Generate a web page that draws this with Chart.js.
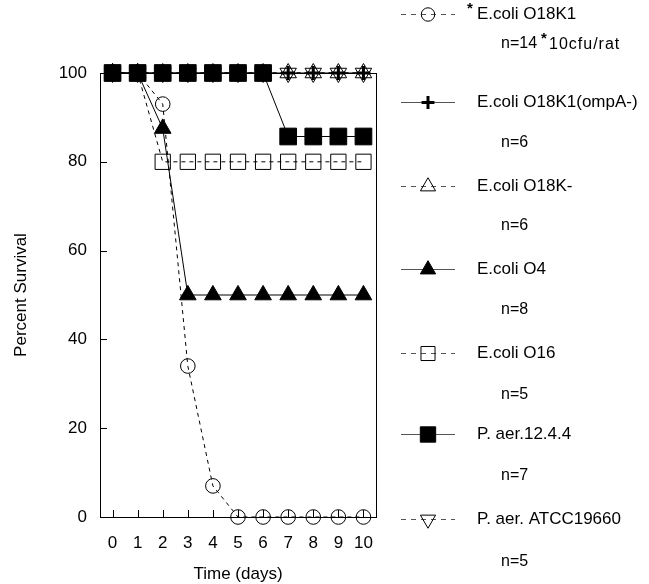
<!DOCTYPE html>
<html>
<head>
<meta charset="utf-8">
<script src="https://cdn.jsdelivr.net/npm/chart.js@4/dist/chart.umd.min.js"></script>
<style>
  html, body { margin: 0; padding: 0; background: #fff; }
  #wrap { width: 649px; height: 584px; position: relative; }
</style>
</head>
<body>
<div id="wrap"><canvas id="c" width="649" height="584"></canvas></div>
<script>
// ---- data ----
const days = ['0', '1', '2', '3', '4', '5', '6', '7', '8', '9', '10'];
const yTicks = [0, 20, 40, 60, 80, 100];
const ecoliO18K1     = [100, 100, 93, 34, 7, 0, 0, 0, 0, 0, 0];
const ecoliO18K1ompA = [100, 100, 100, 100, 100, 100, 100, 100, 100, 100, 100];
const ecoliO18Kminus = [100, 100, 100, 100, 100, 100, 100, 100, 100, 100, 100];
const ecoliO4        = [100, 100, 87.5, 50, 50, 50, 50, 50, 50, 50, 50];
const ecoliO16       = [100, 100, 80, 80, 80, 80, 80, 80, 80, 80, 80];
const paer1244       = [100, 100, 100, 100, 100, 100, 100, 85.7, 85.7, 85.7, 85.7];
const paerATCC       = [100, 100, 100, 100, 100, 100, 100, 100, 100, 100, 100];
const seriesNames = ['E.coli O18K1', 'E.coli O18K1(ompA-)', 'E.coli O18K-', 'E.coli O4', 'E.coli O16', 'P. aer.12.4.4', 'P. aer. ATCC19660'];
const seriesN = ['n=14', 'n=6', 'n=6', 'n=8', 'n=5', 'n=7', 'n=5'];
const footnote = '10cfu/rat';

// ---- styles ----
const FONT = '"Liberation Sans", Arial, Helvetica, sans-serif';
const black = '#000';
const none = 'rgba(0,0,0,0)';
function ds(label, data, style) {
  return Object.assign({
    label, data,
    borderColor: black, borderWidth: 1, tension: 0,
    pointBorderColor: black, pointBorderWidth: 1,
    pointHoverRadius: 0, fill: false
  }, style);
}
const datasets = [
  ds(seriesNames[0], ecoliO18K1, { borderDash: [4, 4], pointStyle: 'circle', pointRadius: 7.3, pointBackgroundColor: none, order: 3 }),
  ds(seriesNames[1], ecoliO18K1ompA, { pointStyle: 'cross', pointRadius: 7, pointBorderWidth: 3, pointBackgroundColor: black, order: 4 }),
  ds(seriesNames[2], ecoliO18Kminus, { borderDash: [4, 4], pointStyle: 'triangle', pointRadius: 9.5, pointBackgroundColor: none, order: 5 }),
  ds(seriesNames[3], ecoliO4, { pointStyle: 'triangle', pointRadius: 9.6, pointBackgroundColor: black, order: 2 }),
  ds(seriesNames[4], ecoliO16, { borderDash: [4, 4], pointStyle: 'rect', pointRadius: 10.8, pointBackgroundColor: none, order: 6 }),
  ds(seriesNames[5], paer1244, { pointStyle: 'rect', pointRadius: 11.8, pointBackgroundColor: black, order: 0 }),
  ds(seriesNames[6], paerATCC, { borderDash: [4, 4], pointStyle: 'triangle', pointRotation: 180, pointRadius: 9.5, pointBackgroundColor: none, order: 5 })
];

// frame + inward ticks
const framePlugin = {
  id: 'frame',
  beforeDatasetsDraw(chart) {
    const { ctx, chartArea: a, scales: { x, y } } = chart;
    ctx.save();
    ctx.strokeStyle = black;
    ctx.lineWidth = 1;
    ctx.setLineDash([]);
    ctx.strokeRect(Math.round(a.left) + 0.5, Math.round(a.top) + 0.5, Math.round(a.right - a.left), Math.round(a.bottom - a.top));
    ctx.beginPath();
    days.forEach((d, i) => {
      const px = Math.round(x.getPixelForValue(i)) + 0.5;
      ctx.moveTo(px, a.bottom);
      ctx.lineTo(px, a.bottom - 7);
    });
    yTicks.forEach(v => {
      const py = Math.round(y.getPixelForValue(v)) + 0.5;
      ctx.moveTo(a.left, py);
      ctx.lineTo(a.left + 7, py);
    });
    ctx.stroke();
    ctx.restore();
  }
};

// custom legend
const LEG = { lineStart: 401, lineEnd: 455, marker: 428, text: 477, nText: 501 };
const legendRowY = [14, 102, 186, 269, 353, 434, 519];
const legendNY = [44, 143, 226, 310, 395, 476, 562];
const legendPlugin = {
  id: 'customLegend',
  afterDraw(chart) {
    const ctx = chart.ctx;
    ctx.save();
    chart.data.datasets.forEach((d, i) => {
      const yy = legendRowY[i] + 0.5;
      ctx.strokeStyle = '#555';
      ctx.lineWidth = 1;
      ctx.setLineDash(d.borderDash ? [5, 5] : []);
      ctx.beginPath();
      ctx.moveTo(LEG.lineStart, yy);
      ctx.lineTo(LEG.lineEnd, yy);
      ctx.stroke();
      ctx.setLineDash([]);
      // marker
      ctx.fillStyle = d.pointBackgroundColor;
      ctx.strokeStyle = black;
      ctx.lineWidth = d.pointBorderWidth;
      Chart.helpers.drawPoint(ctx, { pointStyle: d.pointStyle, rotation: d.pointRotation || 0, radius: d.pointRadius * 0.92, borderWidth: d.pointBorderWidth }, LEG.marker, yy);
      // text
      ctx.fillStyle = black;
      ctx.textBaseline = 'middle';
      ctx.textAlign = 'left';
      ctx.font = '17px ' + FONT;
      ctx.fillText(d.label, LEG.text, legendRowY[i]);
      ctx.font = '16px ' + FONT;
      ctx.fillText(seriesN[i], LEG.nText, legendNY[i]);
      if (i === 0) {
        ctx.font = 'bold 15px ' + FONT;
        ctx.fillText('*', LEG.text - 10, legendRowY[i] - 5);
        ctx.fillText('*', 541, legendNY[i] - 5);
        ctx.font = '16px ' + FONT;
        try { ctx.letterSpacing = '1px'; } catch (e) {}
        ctx.fillText(footnote, 549, legendNY[i] + 1);
        try { ctx.letterSpacing = '0px'; } catch (e) {}
      }
    });
    ctx.restore();
  }
};

new Chart(document.getElementById('c'), {
  type: 'line',
  data: { labels: days, datasets },
  options: {
    responsive: false,
    animation: false,
    clip: false,
    events: [],
    layout: { padding: { top: 73, right: 273, bottom: 0, left: 0 } },
    plugins: { legend: { display: false }, tooltip: { enabled: false } },
    scales: {
      x: {
        type: 'category',
        offset: true,
        grid: { display: false, drawTicks: false },
        border: { display: false },
        ticks: { padding: 16, color: black, font: { size: 17, family: FONT }, maxRotation: 0, autoSkip: false },
        title: { display: true, text: 'Time (days)', color: black, font: { size: 17, family: FONT }, padding: { top: 0, bottom: -1 } },
        afterFit(s) { s.height = 67; }
      },
      y: {
        min: 0, max: 100,
        afterBuildTicks(s) { s.ticks = yTicks.map(v => ({ value: v })); },
        grid: { display: false, drawTicks: false },
        border: { display: false },
        ticks: { padding: 13, color: black, font: { size: 17, family: FONT } },
        title: { display: true, text: 'Percent Survival', color: black, font: { size: 17, family: FONT }, padding: { top: 11, bottom: 0 } },
        afterFit(s) { s.width = 100; }
      }
    }
  },
  plugins: [framePlugin, legendPlugin]
});
</script>
</body>
</html>
